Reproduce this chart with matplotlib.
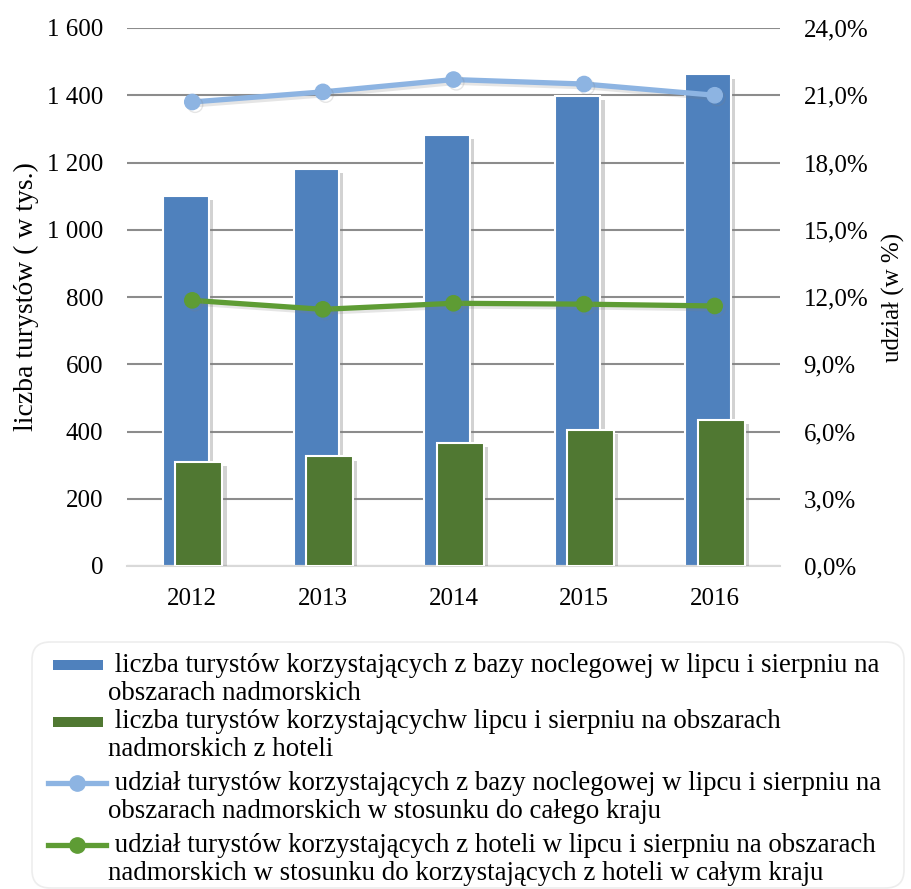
import matplotlib
matplotlib.use("Agg")
import matplotlib.pyplot as plt
import matplotlib.patheffects as pe
from matplotlib.patches import FancyBboxPatch, Rectangle
from matplotlib.lines import Line2D
import numpy as np

years = ["2012", "2013", "2014", "2015", "2016"]
tourists_all = [1100, 1180, 1282, 1397, 1462]
tourists_hotels = [310, 326, 366, 405, 435]
share_all = [20.7, 21.15, 21.7, 21.5, 21.0]
share_hotels = [11.85, 11.45, 11.72, 11.68, 11.6]

legend_labels = [
    " liczba turystów korzystających z bazy noclegowej w lipcu i sierpniu na\nobszarach nadmorskich",
    " liczba turystów korzystającychw lipcu i sierpniu na obszarach\nnadmorskich z hoteli",
    " udział turystów korzystających z bazy noclegowej w lipcu i sierpniu na\nobszarach nadmorskich w stosunku do całego kraju",
    " udział turystów korzystających z hoteli w lipcu i sierpniu na obszarach\nnadmorskich w stosunku do korzystających z hoteli w całym kraju",
]

BLUE = "#4F81BD"
DGREEN = "#507832"
LBLUE = "#8DB4E2"
LGREEN = "#5E9C34"

plt.rcParams['font.family'] = ['Liberation Serif', 'DejaVu Serif']

W, H = 912, 889
fig = plt.figure(figsize=(W / 100, H / 100), dpi=100)
ax = fig.add_axes([127 / W, 1 - 566 / H, (780 - 127) / W, (566 - 28) / H])

x = np.arange(len(years))
shadow = [pe.SimplePatchShadow(offset=(3, -3), shadow_rgbFace="#808080", alpha=0.35), pe.Normal()]
b1 = ax.bar(x - 0.05, tourists_all, width=0.35, color=BLUE, edgecolor="white", linewidth=1.5, zorder=2)
b2 = ax.bar(x + 0.05, tourists_hotels, width=0.36, color=DGREEN, edgecolor="white", linewidth=1.5, zorder=3)
for r in list(b1) + list(b2):
    r.set_path_effects(shadow)

ax.set_xlim(-0.5, len(years) - 0.5)
ax.set_ylim(0, 1600)
ax.set_yticks(np.arange(0, 1601, 200))
ax.set_yticklabels([f"{v:,}".replace(",", " ") for v in range(0, 1601, 200)])
ax.set_xticks(x)
ax.set_xticklabels(years)
ax.yaxis.grid(True, color="#8C8C8C", linewidth=1.5, zorder=0)
ax.set_axisbelow(True)
for s in ["top", "left", "right"]:
    ax.spines[s].set_visible(False)
ax.spines["bottom"].set_color("#D9D9D9")
ax.spines["bottom"].set_linewidth(1.5)
ax.tick_params(axis="both", length=0, labelsize=18)
ax.tick_params(axis="x", pad=16)
ax.tick_params(axis="y", pad=17)
ax.set_ylabel("liczba turystów ( w tys.)", fontsize=20, labelpad=6)

ax2 = ax.twinx()
ax2.set_ylim(0, 24)
ax2.set_yticks(np.arange(0, 24.1, 3))
ax2.set_yticklabels([f"{v:.1f}%".replace(".", ",") for v in np.arange(0, 24.1, 3)])
ax2.tick_params(axis="y", length=0, labelsize=18, pad=17)
for s in ["top", "left", "right", "bottom"]:
    ax2.spines[s].set_visible(False)
ax2.set_ylabel("udział (w %)", fontsize=18, labelpad=10)
lshadow = [pe.SimpleLineShadow(offset=(2, -2), shadow_color="#808080", alpha=0.2), pe.Normal()]
ax2.plot(x, share_all, color=LBLUE, lw=3.8, marker="o", ms=11, zorder=4, path_effects=lshadow)
ax2.plot(x, share_hotels, color=LGREEN, lw=3.8, marker="o", ms=11, zorder=4, path_effects=lshadow)

# legend box
def fx(px):
    return px / W

def fy(py):
    return 1 - py / H

box = FancyBboxPatch((fx(32), fy(888)), fx(904) - fx(32), fy(642) - fy(888),
                     boxstyle="round,pad=0,rounding_size=0.02", transform=fig.transFigure,
                     facecolor="white", edgecolor="#EDEDED", linewidth=1.2)
fig.patches.append(box)

entry_tops = [665, 722, 783, 845]
for i, (lab, ty) in enumerate(zip(legend_labels, entry_tops)):
    lines = lab.split("\n")
    fig.text(fx(108), fy(ty), lines[0], fontsize=19.4, va="center", ha="left")
    fig.text(fx(108), fy(ty + 28), lines[1], fontsize=19.4, va="center", ha="left")
    if i < 2:
        col = BLUE if i == 0 else DGREEN
        fig.patches.append(Rectangle((fx(53), fy(ty + 5)), fx(103) - fx(53), fy(ty - 5) - fy(ty + 5),
                                     transform=fig.transFigure, facecolor=col, edgecolor="none"))
    else:
        col = LBLUE if i == 2 else LGREEN
        fig.lines.append(Line2D([fx(48), fx(106)], [fy(ty), fy(ty)], transform=fig.transFigure,
                                color=col, lw=3.8))
        fig.lines.append(Line2D([fx(77)], [fy(ty)], transform=fig.transFigure,
                                color=col, marker="o", ms=11, lw=0))

fig.savefig("out.png", dpi=100)
